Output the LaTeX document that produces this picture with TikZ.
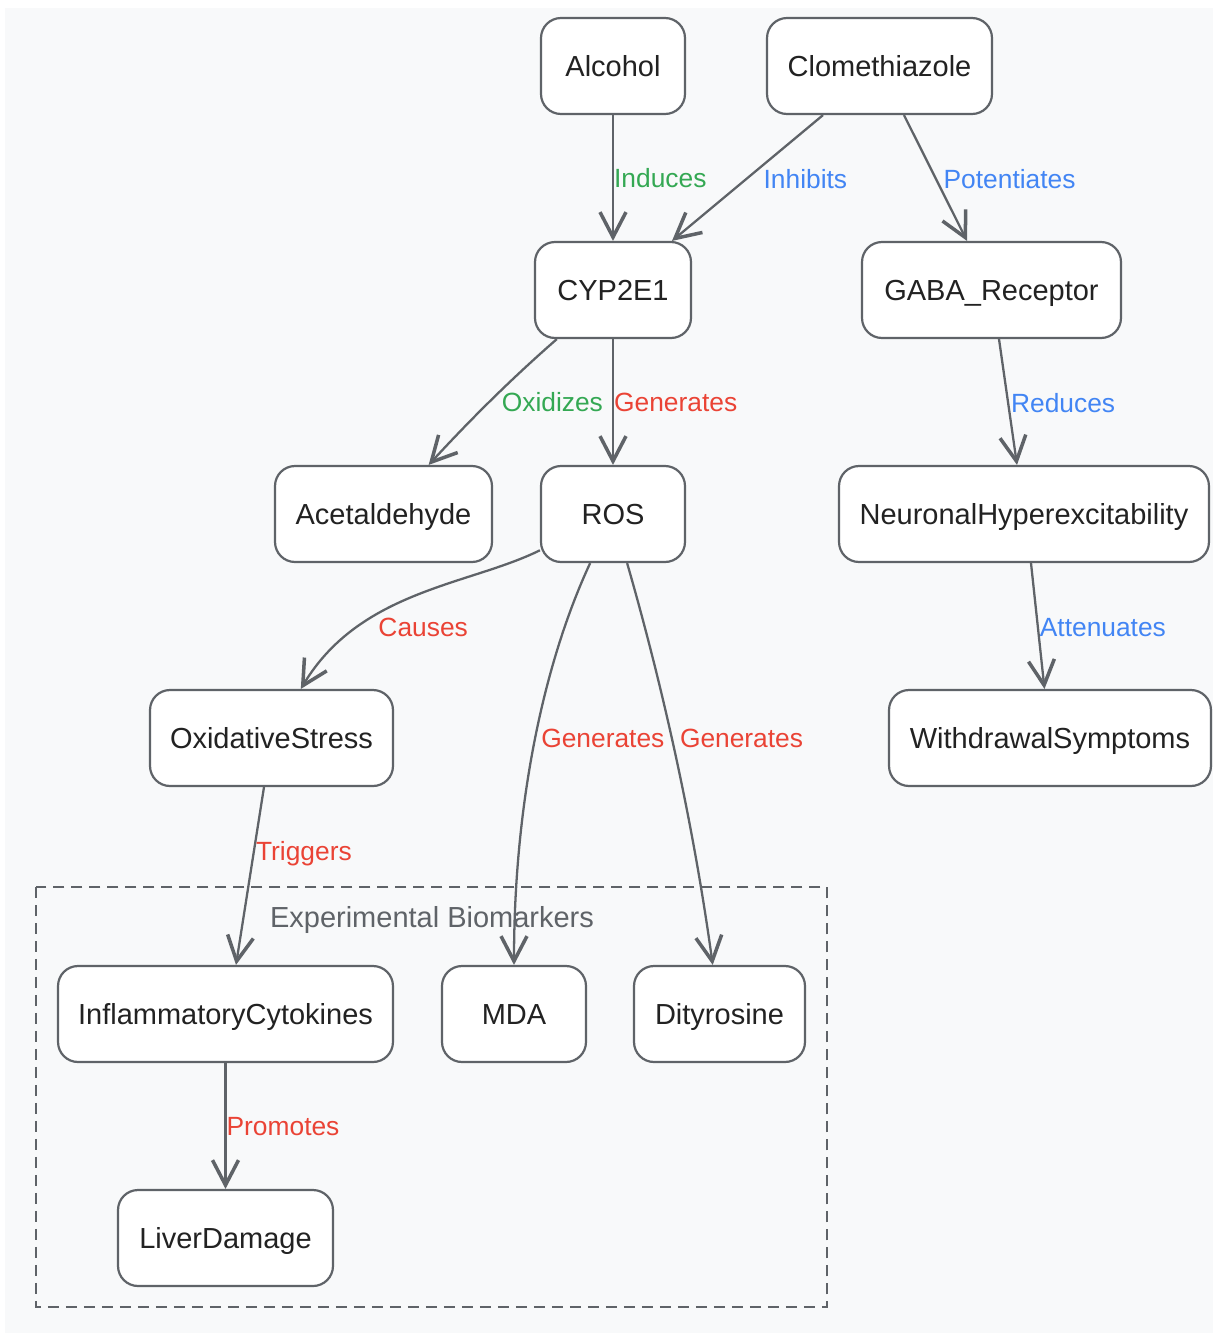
\documentclass[tikz,border=0pt]{standalone}
\usepackage{fontspec}
\setmainfont{Liberation Sans}
\usetikzlibrary{arrows.meta}
\definecolor{linegray}{HTML}{5F6368}
\definecolor{nodetext}{HTML}{222222}
\definecolor{bggray}{HTML}{F8F9FA}
\definecolor{egreen}{HTML}{34A853}
\definecolor{eblue}{HTML}{4285F4}
\definecolor{ered}{HTML}{EA4335}
\begin{document}
\begin{tikzpicture}[x=0.02cm, y=-0.02cm]
\tikzstyle{box}   = [rectangle, rounded corners=0.40cm, draw=linegray, line width=1.25pt, fill=white, text=nodetext, minimum height=1.92cm, text height=11.8pt, text depth=0.4pt, font=\fontsize{16.5}{20}\selectfont]
\tikzstyle{elbl}  = [anchor=west, inner sep=0pt, text height=10.8pt, text depth=0pt, font=\fontsize{15}{18}\selectfont]
\tikzstyle{link}  = [draw=linegray, line width=1.3pt, -{Straight Barb[length=0.50cm, width=0.52cm, line width=2pt]}]
\tikzstyle{group} = [draw=linegray, line width=1.2pt, dash pattern=on 0.22cm off 0.14cm]
\useasboundingbox (0,0) rectangle (1213,1333);
\fill[bggray] (5,8) rectangle (1213,1333);
\draw[group] (36,887) rectangle (827,1307);
\node[text=linegray, text height=11.8pt, text depth=0pt, font=\fontsize{16.5}{20}\selectfont] at (432,917) (g_t_0) {Experimental Biomarkers};
\node[box, minimum width=2.88cm] at (613.0, 66) (0_n_0) {Alcohol};
\node[box, minimum width=4.50cm] at (879.5, 66) (0_n_1) {Clomethiazole};
\node[box, minimum width=3.12cm] at (613.0, 290) (1_n_0) {CYP2E1};
\node[box, minimum width=5.18cm] at (991.5, 290) (1_n_1) {GABA\_Receptor};
\node[box, minimum width=4.34cm] at (383.5, 514) (2_n_0) {Acetaldehyde};
\node[box, minimum width=2.88cm] at (613.0, 514) (2_n_1) {ROS};
\node[box, minimum width=7.40cm] at (1024.0, 514) (2_n_2) {NeuronalHyperexcitability};
\node[box, minimum width=4.86cm] at (271.5, 738) (3_n_0) {OxidativeStress};
\node[box, minimum width=6.44cm] at (1050.0, 738) (3_n_1) {WithdrawalSymptoms};
\node[box, minimum width=6.70cm] at (225.5, 1014) (4_n_0) {InflammatoryCytokines};
\node[box, minimum width=2.88cm] at (514.0, 1014) (4_n_1) {MDA};
\node[box, minimum width=3.42cm] at (719.5, 1014) (4_n_2) {Dityrosine};
\node[box, minimum width=4.30cm] at (225.5, 1238) (5_n_0) {LiverDamage};
\draw[link] (0_n_0) -- (1_n_0) node[elbl, pos=0.5, text=egreen] () {Induces};
\draw[link] ([shift={(-56.5,0)}]0_n_1.south) -- ([shift={(59,0)}]1_n_0.north) node[elbl, pos=0.5, shift={(15,1)}, text=eblue] () {Inhibits};
\draw[link] ([shift={(24.5,0)}]0_n_1.south) -- ([shift={(-24.5,0)}]1_n_1.north) node[elbl, pos=0.5, shift={(7,1)}, text=eblue] () {Potentiates};
\draw[link] (1_n_0) .. controls (510,380) and (470,420) .. (2_n_0) node[elbl, pos=0.5, shift={(10,2)}, text=egreen] () {Oxidizes};
\draw[link] (1_n_0) -- (2_n_1) node[elbl, pos=0.5, text=ered] () {Generates};
\draw[link] ([shift={(7.5,0)}]1_n_1.south) -- ([shift={(-7,0)}]2_n_2.north) node[elbl, pos=0.5, shift={(2,1)}, text=eblue] () {Reduces};
\draw[link] (2_n_1) .. controls (470,585) and (360,590) .. (3_n_0) node[elbl, pos=0.7, shift={(12,5)}, text=ered] () {Causes};
\draw[link] (2_n_1) .. controls (545,660) and (514,800) .. (4_n_1) node[elbl, pos=0.5, shift={(5,0)}, text=ered] () {Generates};
\draw[link] (2_n_1) .. controls (655,660) and (690,800) .. (4_n_2) node[elbl, pos=0.5, shift={(7,0)}, text=ered] () {Generates};
\draw[link] ([shift={(7,0)}]2_n_2.south) -- ([shift={(-5.5,0)}]3_n_1.north) node[elbl, pos=0.5, shift={(1,1)}, text=eblue] () {Attenuates};
\draw[link] ([shift={(-7.5,0)}]3_n_0.south) -- ([shift={(10.5,0)}]4_n_0.north) node[elbl, pos=0.36, shift={(1,0)}, text=ered] () {Triggers};
\draw[link] (4_n_0) -- (5_n_0) node[elbl, pos=0.5, text=ered] () {Promotes};
\end{tikzpicture}
\end{document}
